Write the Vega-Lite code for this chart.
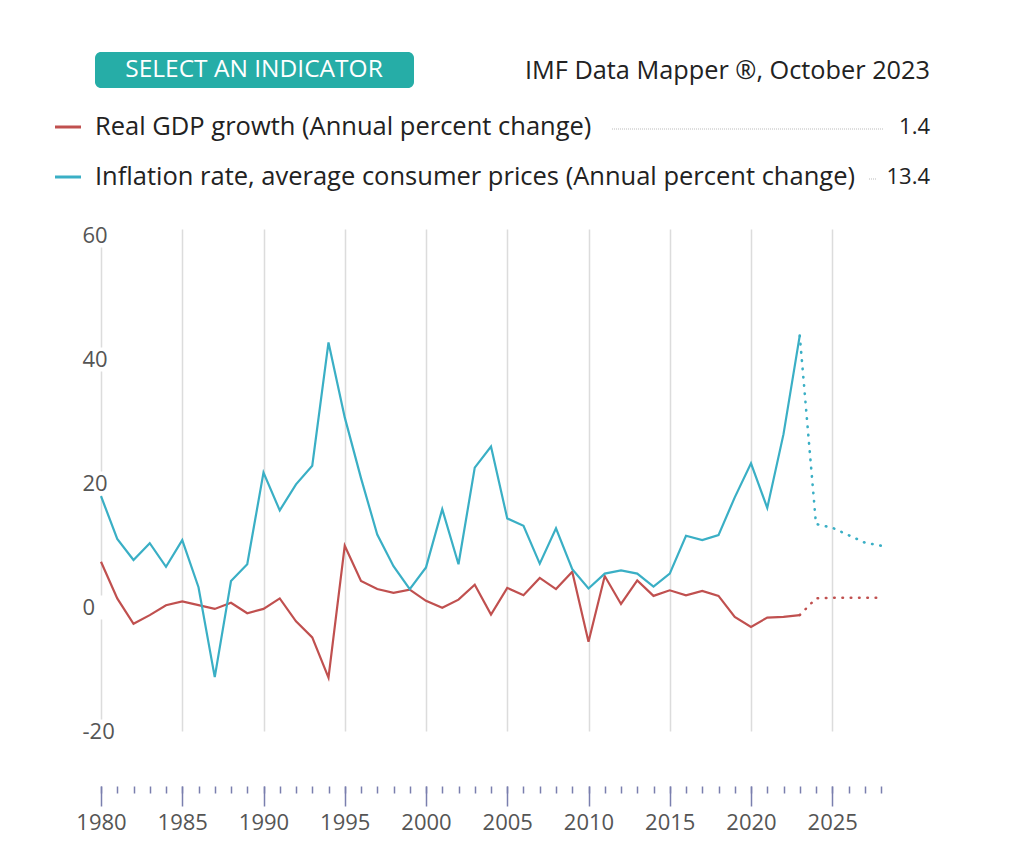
{
  "$schema": "https://vega.github.io/schema/vega-lite/v6.json",
  "width": 780,
  "height": 502,
  "autosize": "none",
  "padding": {"left": 101, "top": 229, "right": 146, "bottom": 121},
  "background": "white",
  "config": {"view": {"stroke": null}, "font": "Open Sans", "text": {"font": "Open Sans"}},
  "datasets": {
    "imf": [
      {"year": 1980, "gdp": 7.3, "inf": 17.9},
      {"year": 1981, "gdp": 1.4, "inf": 11.0},
      {"year": 1982, "gdp": -2.7, "inf": 7.6},
      {"year": 1983, "gdp": -1.3, "inf": 10.3},
      {"year": 1984, "gdp": 0.3, "inf": 6.5},
      {"year": 1985, "gdp": 0.9, "inf": 10.8},
      {"year": 1986, "gdp": 0.3, "inf": 3.2},
      {"year": 1987, "gdp": -0.3, "inf": -11.3},
      {"year": 1988, "gdp": 0.7, "inf": 4.2},
      {"year": 1989, "gdp": -1.0, "inf": 6.9},
      {"year": 1990, "gdp": -0.3, "inf": 21.7},
      {"year": 1991, "gdp": 1.4, "inf": 15.6},
      {"year": 1992, "gdp": -2.3, "inf": 19.8},
      {"year": 1993, "gdp": -4.9, "inf": 22.8},
      {"year": 1994, "gdp": -11.4, "inf": 42.7},
      {"year": 1995, "gdp": 9.9, "inf": 30.6},
      {"year": 1996, "gdp": 4.2, "inf": 20.8},
      {"year": 1997, "gdp": 2.9, "inf": 11.7},
      {"year": 1998, "gdp": 2.3, "inf": 6.6},
      {"year": 1999, "gdp": 2.8, "inf": 2.9},
      {"year": 2000, "gdp": 1.0, "inf": 6.4},
      {"year": 2001, "gdp": -0.1, "inf": 15.8},
      {"year": 2002, "gdp": 1.2, "inf": 6.9},
      {"year": 2003, "gdp": 3.6, "inf": 22.5},
      {"year": 2004, "gdp": -1.2, "inf": 25.9},
      {"year": 2005, "gdp": 3.1, "inf": 14.3},
      {"year": 2006, "gdp": 1.9, "inf": 13.1},
      {"year": 2007, "gdp": 4.7, "inf": 7.0},
      {"year": 2008, "gdp": 2.9, "inf": 12.7},
      {"year": 2009, "gdp": 5.7, "inf": 6.1},
      {"year": 2010, "gdp": -5.6, "inf": 3.0},
      {"year": 2011, "gdp": 5.0, "inf": 5.4},
      {"year": 2012, "gdp": 0.5, "inf": 5.9},
      {"year": 2013, "gdp": 4.3, "inf": 5.4},
      {"year": 2014, "gdp": 1.8, "inf": 3.3},
      {"year": 2015, "gdp": 2.7, "inf": 5.4},
      {"year": 2016, "gdp": 1.9, "inf": 11.5},
      {"year": 2017, "gdp": 2.6, "inf": 10.8},
      {"year": 2018, "gdp": 1.8, "inf": 11.6},
      {"year": 2019, "gdp": -1.6, "inf": 17.7},
      {"year": 2020, "gdp": -3.2, "inf": 23.2},
      {"year": 2021, "gdp": -1.7, "inf": 16.0},
      {"year": 2022, "gdp": -1.6, "inf": 27.9},
      {"year": 2023, "gdp": -1.3, "inf": 43.8},
      {"year": 2024, "gdp": 1.4, "inf": 13.4},
      {"year": 2025, "gdp": 1.5, "inf": 12.8},
      {"year": 2026, "gdp": 1.5, "inf": 11.6},
      {"year": 2027, "gdp": 1.5, "inf": 10.4},
      {"year": 2028, "gdp": 1.5, "inf": 9.9}
    ],
    "legend": [
      {"series": "gdp", "label": "Real GDP growth (Annual percent change)"},
      {"series": "inf", "label": "Inflation rate, average consumer prices (Annual percent change)"}
    ]
  },
  "resolve": {"scale": {"y": "independent"}, "axis": {"x": "independent", "y": "independent"}},
  "layer": [
    {
      "data": {"name": "imf"},
      "transform": [{"fold": ["gdp", "inf"], "as": ["series", "value"]}, {"filter": "datum.year <= 2023"}],
      "mark": {"type": "line", "strokeWidth": 2.2},
      "encoding": {
        "x": {
          "field": "year", "type": "quantitative",
          "scale": {"domain": [1980, 2028], "nice": false, "zero": false},
          "axis": {
            "orient": "bottom", "offset": 55, "title": null,
            "values": [1980, 1985, 1990, 1995, 2000, 2005, 2010, 2015, 2020, 2025],
            "format": "d", "domain": false, "labelFlush": false, "labelOverlap": false,
            "tickSize": 20, "tickWidth": 1.5, "tickColor": "#7a7fae",
            "labelFont": "Open Sans", "labelFontSize": 22, "labelColor": "#555555", "labelPadding": 6,
            "grid": true, "gridColor": "#dcdcdc", "gridWidth": 1.5,
            "gridDash": {"condition": {"test": "datum.value === 1980", "value": [0, 18, 100, 24, 100, 24, 100, 24, 100, 30]}, "value": []}
          }
        },
        "y": {
          "field": "value", "type": "quantitative",
          "scale": {"domain": [-20, 61], "nice": false, "zero": false},
          "axis": {
            "title": null, "values": [-20, 0, 20, 40, 60], "grid": false, "domain": false, "ticks": false,
            "labelExpr": "'' + datum.value",
            "labelAlign": "left", "labelPadding": 19, "labelFont": "Open Sans", "labelFontSize": 22, "labelColor": "#555555"
          }
        },
        "color": {"field": "series", "type": "nominal", "scale": {"domain": ["gdp", "inf"], "range": ["#c0504f", "#3aafc5"]}, "legend": null}
      }
    },
    {
      "data": {"name": "imf"},
      "transform": [{"fold": ["gdp", "inf"], "as": ["series", "value"]}, {"filter": "datum.year >= 2023"}],
      "mark": {"type": "line", "strokeWidth": 2.6, "strokeCap": "round", "strokeDash": [0.5, 7.8]},
      "encoding": {
        "x": {
          "field": "year", "type": "quantitative",
          "scale": {"domain": [1980, 2028], "nice": false, "zero": false},
          "axis": {
            "orient": "bottom", "offset": 55, "title": null,
            "values": [1980, 1981, 1982, 1983, 1984, 1985, 1986, 1987, 1988, 1989, 1990, 1991, 1992, 1993, 1994, 1995, 1996, 1997, 1998, 1999, 2000, 2001, 2002, 2003, 2004, 2005, 2006, 2007, 2008, 2009, 2010, 2011, 2012, 2013, 2014, 2015, 2016, 2017, 2018, 2019, 2020, 2021, 2022, 2023, 2024, 2025, 2026, 2027, 2028],
            "labels": false, "domain": false, "grid": false,
            "tickSize": 7, "tickWidth": 1.5, "tickColor": "#7a7fae"
          }
        },
        "y": {"field": "value", "type": "quantitative", "scale": {"domain": [-20, 61], "nice": false, "zero": false}, "axis": null},
        "color": {"field": "series", "type": "nominal", "legend": null}
      }
    },
    {
      "data": {"values": [{"t": "SELECT AN INDICATOR"}]},
      "mark": {"type": "rect", "cornerRadius": 6, "fill": "#26ada7"},
      "encoding": {"x": {"value": -6}, "x2": {"value": 313}, "y": {"value": -177}, "y2": {"value": -141}}
    },
    {
      "data": {"values": [{"t": "SELECT AN INDICATOR"}]},
      "mark": {"type": "text", "font": "Open Sans", "fontSize": 24.5, "color": "white", "align": "center", "baseline": "middle"},
      "encoding": {"text": {"field": "t"}, "x": {"value": 153}, "y": {"value": -159}}
    },
    {
      "data": {"values": [{"t": "IMF Data Mapper ®, October 2023"}]},
      "mark": {"type": "text", "font": "Open Sans", "fontSize": 25.3, "color": "#222222", "align": "right", "baseline": "middle"},
      "encoding": {"text": {"field": "t"}, "x": {"value": 829}, "y": {"value": -158}}
    },
    {
      "data": {"name": "legend"},
      "mark": {"type": "rule", "strokeWidth": 3},
      "encoding": {
        "x": {"value": -46}, "x2": {"value": -20},
        "y": {"field": "series", "type": "nominal", "scale": {"type": "point", "domain": ["gdp", "inf"], "range": [-102, -52], "padding": 0}, "axis": null},
        "color": {"field": "series", "type": "nominal", "legend": null}
      }
    },
    {
      "data": {"name": "legend"},
      "mark": {"type": "text", "font": "Open Sans", "fontSize": 25.5, "color": "#222222", "align": "left", "baseline": "middle"},
      "encoding": {
        "text": {"field": "label"},
        "x": {"value": -6},
        "y": {"field": "series", "type": "nominal", "scale": {"type": "point", "domain": ["gdp", "inf"], "range": [-102, -52], "padding": 0}, "axis": null}
      }
    },
    {
      "data": {"name": "legend"},
      "transform": [{"filter": "datum.series === 'gdp'"}],
      "mark": {"type": "rule", "strokeWidth": 1, "color": "#bbbbbb", "strokeDash": [1, 1], "yOffset": 2},
      "encoding": {
        "x": {"value": 511}, "x2": {"value": 783},
        "y": {"field": "series", "type": "nominal", "scale": {"type": "point", "domain": ["gdp", "inf"], "range": [-102, -52], "padding": 0}, "axis": null}
      }
    },
    {
      "data": {"name": "legend"},
      "transform": [{"filter": "datum.series === 'inf'"}],
      "mark": {"type": "rule", "strokeWidth": 1, "color": "#bbbbbb", "strokeDash": [1, 1], "yOffset": 2},
      "encoding": {
        "x": {"value": 768}, "x2": {"value": 775},
        "y": {"field": "series", "type": "nominal", "scale": {"type": "point", "domain": ["gdp", "inf"], "range": [-102, -52], "padding": 0}, "axis": null}
      }
    },
    {
      "data": {"name": "imf"},
      "transform": [{"fold": ["gdp", "inf"], "as": ["series", "value"]}, {"filter": "datum.year === 2024"}],
      "mark": {"type": "text", "font": "Open Sans", "fontSize": 22, "color": "#222222", "align": "right", "baseline": "middle"},
      "encoding": {
        "text": {"field": "value", "type": "quantitative", "format": ".1f"},
        "x": {"value": 829},
        "y": {"field": "series", "type": "nominal", "scale": {"type": "point", "domain": ["gdp", "inf"], "range": [-102, -52], "padding": 0}, "axis": null}
      }
    }
  ]
}
